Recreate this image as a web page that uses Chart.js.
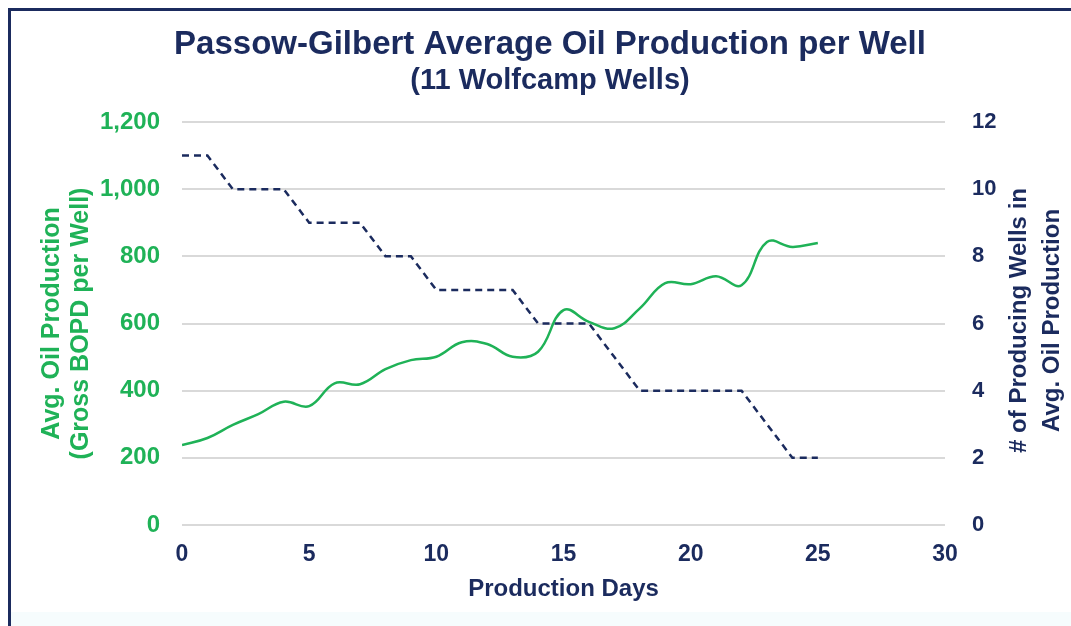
<!DOCTYPE html>
<html>
<head>
<meta charset="utf-8">
<script src="https://cdn.jsdelivr.net/npm/chart.js@4/dist/chart.umd.min.js"></script>
<style>
    html, body { margin: 0; padding: 0; background: #fff; }
    .wrap { position: relative; width: 1071px; height: 626px; overflow: hidden; }
    .frame {
        position: absolute; left: 8px; top: 8px; right: -20px; bottom: -20px;
        border-top: 3px solid #1b2b5e; border-left: 3px solid #1b2b5e;
        pointer-events: none;
    }
    .foot { position: absolute; left: 11px; right: 0; top: 612px; bottom: 0; background: #f6fcfd; }
    canvas { position: absolute; left: 0; top: 0; }
</style>
</head>
<body>
<div class="wrap">
    <div class="foot"></div>
    <canvas id="oilChart" width="1071" height="626"></canvas>
    <div class="frame"></div>
</div>
<script>
    const days = [0, 1, 2, 3, 4, 5, 6, 7, 8, 9, 10, 11, 12, 13, 14, 15, 16, 17, 18, 19, 20, 21, 22, 23, 24, 25];
    const avgOil = [238, 259, 298, 330, 367, 354, 422, 419, 464, 491, 501, 544, 539, 501, 516, 640, 605, 586, 645, 720, 717, 741, 714, 843, 828, 840];
    const wellCount = [11, 11, 10, 10, 10, 9, 9, 9, 8, 8, 7, 7, 7, 7, 6, 6, 6, 5, 4, 4, 4, 4, 4, 3, 2, 2];
    const xTicks = [0, 5, 10, 15, 20, 25, 30];

    const GREEN = '#1fb257';
    const NAVY = '#1b2b5e';
    const FONT = "'Liberation Sans', Arial, sans-serif";

    // right axis title reads bottom-to-top, chart.js would rotate it the other way
    const rightTitle = {
        id: 'rightTitle',
        afterDraw(chart) {
            const y1 = chart.scales.y1;
            const ctx = chart.ctx;
            const cy = (chart.chartArea.top + chart.chartArea.bottom) / 2 - 3;
            ctx.save();
            ctx.fillStyle = NAVY;
            ctx.font = 'bold 24px ' + FONT;
            ctx.textAlign = 'center';
            ctx.textBaseline = 'middle';
            ['# of Producing Wells in', 'Avg. Oil Production'].forEach((line, i) => {
                ctx.save();
                ctx.translate(y1.left + 74 + i * 33, cy);
                ctx.rotate(-Math.PI / 2);
                ctx.fillText(line, 0, 0);
                ctx.restore();
            });
            ctx.restore();
        }
    };

    new Chart(document.getElementById('oilChart').getContext('2d'), {
        type: 'line',
        data: {
            datasets: [{
                label: 'Avg. Oil Production',
                data: days.map((d, i) => ({ x: d, y: avgOil[i] })),
                borderColor: GREEN,
                borderWidth: 2.5,
                pointRadius: 0,
                tension: 0.4,
                yAxisID: 'y'
            }, {
                label: '# of Producing Wells',
                data: days.map((d, i) => ({ x: d, y: wellCount[i] })),
                borderColor: NAVY,
                borderWidth: 2.5,
                borderDash: [7, 5],
                pointRadius: 0,
                tension: 0,
                yAxisID: 'y1'
            }]
        },
        options: {
            responsive: false,
            animation: false,
            layout: { padding: { left: 29, right: 0, top: 0, bottom: 0 } },
            plugins: {
                legend: { display: false },
                tooltip: { enabled: false },
                title: {
                    display: true,
                    text: 'Passow-Gilbert Average Oil Production per Well',
                    color: NAVY,
                    font: { family: FONT, size: 33, weight: 'bold', lineHeight: 1.2 },
                    padding: { top: 25.2, bottom: 0 }
                },
                subtitle: {
                    display: true,
                    text: '(11 Wolfcamp Wells)',
                    color: NAVY,
                    font: { family: FONT, size: 29, weight: 'bold', lineHeight: 1.0 },
                    padding: { top: 1.5, bottom: 26.7 }
                }
            },
            scales: {
                x: {
                    type: 'linear',
                    min: 0,
                    max: 30,
                    afterBuildTicks: axis => { axis.ticks = xTicks.map(v => ({ value: v })); },
                    afterFit: axis => { axis.height = 101; },
                    grid: { display: false, drawTicks: false },
                    border: { display: false },
                    ticks: { color: NAVY, padding: 16, maxRotation: 0, font: { family: FONT, size: 23, weight: 'bold' } },
                    title: {
                        display: true,
                        text: 'Production Days',
                        color: NAVY,
                        font: { family: FONT, size: 24, weight: 'bold', lineHeight: 1.2 },
                        padding: { top: 0, bottom: 22 }
                    }
                },
                y: {
                    position: 'left',
                    min: 0,
                    max: 1200,
                    afterFit: axis => { axis.width = 153; },
                    grid: { color: '#d9d9d9', lineWidth: 2, drawTicks: false },
                    border: { display: false },
                    ticks: {
                        stepSize: 200,
                        color: GREEN,
                        padding: 22,
                        font: { family: FONT, size: 24, weight: 'bold' },
                        callback: v => v.toLocaleString('en-US')
                    },
                    title: {
                        display: true,
                        text: ['Avg. Oil Production', '(Gross BOPD per Well)'],
                        color: GREEN,
                        font: { family: FONT, size: 25, weight: 'bold', lineHeight: 1.15 },
                        padding: { top: 8.6, bottom: 0 }
                    }
                },
                y1: {
                    position: 'right',
                    min: 0,
                    max: 12,
                    afterFit: axis => { axis.width = 126; },
                    grid: { display: false, drawTicks: false },
                    border: { display: false },
                    ticks: { stepSize: 2, color: NAVY, padding: 27, font: { family: FONT, size: 22, weight: 'bold' } }
                }
            }
        },
        plugins: [rightTitle]
    });
</script>
</body>
</html>
